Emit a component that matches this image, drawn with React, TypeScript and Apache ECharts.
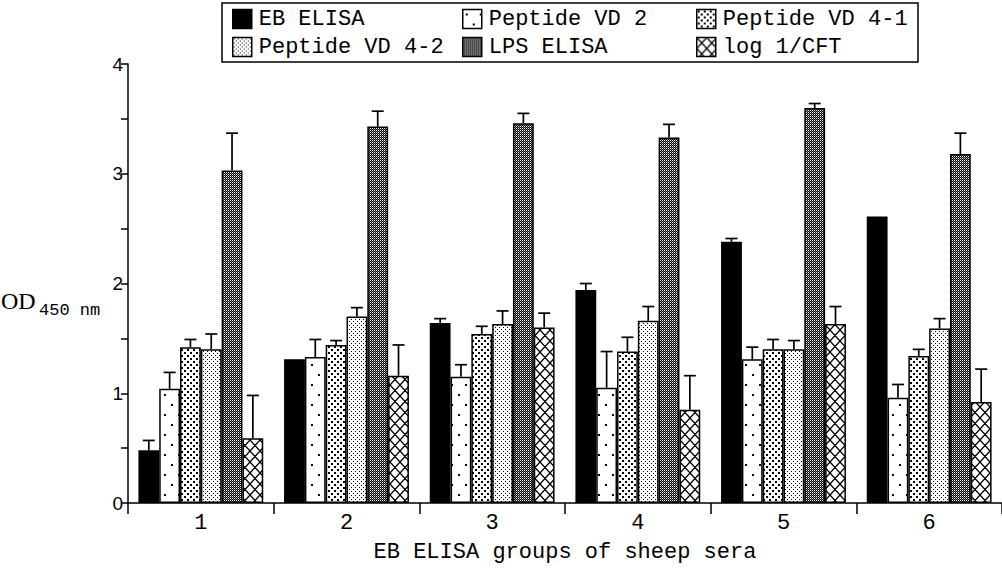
import React, { useEffect, useRef } from 'react';
import * as echarts from 'echarts';

const categories = ['1', '2', '3', '4', '5', '6'];
const seriesNames = ['EB ELISA', 'Peptide VD 2', 'Peptide VD 4-1', 'Peptide VD 4-2', 'LPS ELISA', 'log 1/CFT'];

const ebElisa = [0.48, 1.31, 1.64, 1.94, 2.38, 2.61];
const ebElisaErr = [0.09, 0, 0.04, 0.06, 0.03, 0];
const vd2 = [1.04, 1.33, 1.15, 1.05, 1.31, 0.96];
const vd2Err = [0.15, 0.16, 0.11, 0.33, 0.11, 0.12];
const vd41 = [1.42, 1.44, 1.54, 1.38, 1.4, 1.34];
const vd41Err = [0.07, 0.04, 0.07, 0.13, 0.09, 0.06];
const vd42 = [1.4, 1.7, 1.63, 1.66, 1.4, 1.59];
const vd42Err = [0.14, 0.08, 0.12, 0.13, 0.08, 0.09];
const lps = [3.03, 3.43, 3.46, 3.33, 3.6, 3.18];
const lpsErr = [0.34, 0.14, 0.09, 0.12, 0.04, 0.19];
const logCft = [0.59, 1.16, 1.6, 0.85, 1.63, 0.92];
const logCftErr = [0.39, 0.28, 0.13, 0.31, 0.16, 0.3];

const yMin = 0;
const yMax = 4;
const yStep = 0.5;

const allValues = [ebElisa, vd2, vd41, vd42, lps, logCft];
const allErrors = [ebElisaErr, vd2Err, vd41Err, vd42Err, lpsErr, logCftErr];

const CAT_GAP = 0.143;
const MONO = '"Liberation Mono", "DejaVu Sans Mono", monospace';

function tile(w: number, h: number, draw: (ctx: CanvasRenderingContext2D) => void, bg = '#fff') {
  const c = document.createElement('canvas');
  c.width = w;
  c.height = h;
  const ctx = c.getContext('2d')!;
  ctx.fillStyle = bg;
  ctx.fillRect(0, 0, w, h);
  ctx.fillStyle = '#000';
  ctx.strokeStyle = '#000';
  draw(ctx);
  return { image: c.toDataURL(), repeat: 'repeat', imageWidth: w, imageHeight: h } as any;
}

function makeFills() {
  const solid = '#000';
  const sparse = tile(14, 20, (ctx) => {
    ctx.fillRect(3, 4, 2, 2);
    ctx.fillRect(10, 14, 2, 2);
  });
  const medium = tile(6, 6, (ctx) => {
    ctx.fillRect(1, 1, 2, 2);
    ctx.fillRect(4, 4, 2, 2);
  });
  const dense = tile(4, 4, (ctx) => {
    ctx.fillRect(1, 1, 1, 1);
    ctx.fillRect(3, 3, 1, 1);
  });
  const dark = tile(2, 2, (ctx) => {
    ctx.fillStyle = '#fff';
    ctx.fillRect(0, 0, 1, 1);
    ctx.fillStyle = '#777';
    ctx.fillRect(1, 1, 1, 1);
  }, '#000');
  const cross = tile(10, 11, (ctx) => {
    ctx.lineWidth = 1.3;
    ctx.beginPath();
    for (let k = -1; k <= 1; k++) {
      ctx.moveTo(k * 10, 0);
      ctx.lineTo(k * 10 + 10, 11);
      ctx.moveTo(k * 10 + 10, 0);
      ctx.lineTo(k * 10, 11);
    }
    ctx.stroke();
  });
  return [solid, sparse, medium, dense, dark, cross];
}

const legendLayout = [
  { left: 232, top: 8 },
  { left: 462, top: 8 },
  { left: 696, top: 8 },
  { left: 232, top: 36 },
  { left: 462, top: 36 },
  { left: 696, top: 36 },
];

export default function App() {
  const ref = useRef<HTMLDivElement>(null);
  useEffect(() => {
    if (!ref.current) return;
    const chart = echarts.init(ref.current, null, { renderer: 'svg' });
    const fills = makeFills();

    const barSeries = seriesNames.map((name, i) => ({
      name,
      type: 'bar',
      data: allValues[i],
      barGap: '0%',
      barCategoryGap: `${CAT_GAP * 100}%`,
      itemStyle: { color: fills[i], borderColor: '#000', borderWidth: 1.5 },
      emphasis: { disabled: true },
    }));

    const errData: number[][] = [];
    allValues.forEach((vals, s) => {
      vals.forEach((v, c) => {
        const e = allErrors[s][c];
        if (e > 0) errData.push([c, s, v, v + e]);
      });
    });

    const errSeries = {
      type: 'custom',
      name: 'err',
      z: 5,
      dimensions: ['cat', 'ser', 'val', 'top'],
      encode: { x: 0, y: 3 },
      data: errData,
      renderItem: (params: any, api: any) => {
        const c = api.value(0);
        const s = api.value(1);
        const v = api.value(2);
        const t = api.value(3);
        const band = api.size([1, 0])[0];
        const bw = (band * (1 - CAT_GAP)) / seriesNames.length;
        const cx = api.coord([c, 0])[0] + (s - (seriesNames.length - 1) / 2) * bw;
        const y1 = api.coord([c, v])[1];
        const y2 = api.coord([c, t])[1];
        const st = { stroke: '#000', lineWidth: 1.7 };
        return {
          type: 'group',
          children: [
            { type: 'line', shape: { x1: cx, y1, x2: cx, y2 }, style: st },
            { type: 'line', shape: { x1: cx - 6, y1: y2, x2: cx + 6, y2 }, style: st },
          ],
        };
      },
    };

    const legends = seriesNames.map((name, i) => ({
      data: [name],
      left: legendLayout[i].left,
      top: legendLayout[i].top,
      orient: 'horizontal',
      icon: 'rect',
      itemWidth: 19,
      itemHeight: 19,
      padding: 0,
      selectedMode: false,
      itemStyle: { borderColor: '#000', borderWidth: 1.5 },
      textStyle: { fontFamily: MONO, fontSize: 22, color: '#000', padding: [0, 0, 0, 2] },
    }));

    chart.setOption({
      animation: false,
      backgroundColor: '#fff',
      grid: { left: 128, top: 64, width: 882, height: 439, containLabel: false },
      legend: legends,
      xAxis: {
        type: 'category',
        data: categories,
        name: 'EB ELISA groups of sheep sera',
        nameLocation: 'middle',
        nameGap: 38,
        nameTextStyle: { fontFamily: MONO, fontSize: 22, color: '#000' },
        axisLine: { lineStyle: { color: '#000', width: 1.5 } },
        axisTick: { show: true, alignWithLabel: false, length: 11, lineStyle: { color: '#000', width: 1.5 } },
        axisLabel: { fontFamily: MONO, fontSize: 22, color: '#000', margin: 9 },
        splitLine: { show: false },
      },
      yAxis: {
        type: 'value',
        min: yMin,
        max: yMax,
        interval: yStep,
        axisLine: { show: true, lineStyle: { color: '#000', width: 1.5 } },
        axisTick: { show: true, length: 7, lineStyle: { color: '#000', width: 1.5 } },
        axisLabel: {
          fontFamily: '"Liberation Sans", Arial, sans-serif',
          fontSize: 19,
          color: '#000',
          margin: 5,
          formatter: (v: number) => (Number.isInteger(v) ? String(v) : ''),
        },
        splitLine: { show: false },
      },
      graphic: [
        {
          type: 'rect',
          shape: { x: 222, y: 3, width: 696, height: 59 },
          style: { fill: 'none', stroke: '#000', lineWidth: 1.5 },
        },
        {
          type: 'text',
          x: 1,
          y: 301,
          style: { text: 'OD', font: '24px "Liberation Serif", serif', fill: '#000', textVerticalAlign: 'middle' },
        },
        {
          type: 'text',
          x: 39,
          y: 310,
          style: { text: '450 nm', font: '17px "Liberation Mono", monospace', fill: '#000', textVerticalAlign: 'middle' },
        },
      ],
      series: [...barSeries, errSeries],
    });
    return () => chart.dispose();
  }, []);
  return <div ref={ref} style={{ position: 'fixed', left: 0, top: 0, width: 1002, height: 573 }} />;
}
